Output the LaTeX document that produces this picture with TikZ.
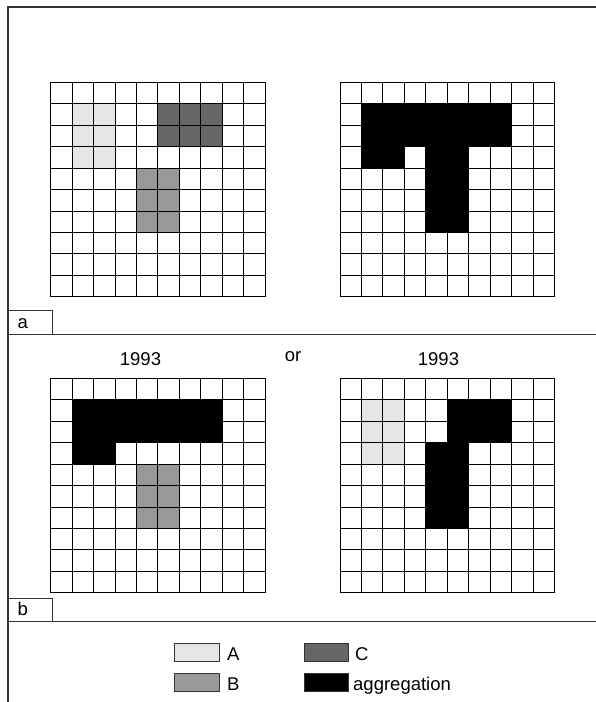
\documentclass[tikz,border=0pt]{standalone}
\usepackage{fontspec}
\setmainfont{Liberation Sans}
\definecolor{colA}{HTML}{E5E5E5}
\definecolor{colB}{HTML}{999999}
\definecolor{colC}{HTML}{666666}
\definecolor{frameCol}{HTML}{333333}
\tikzset{
  gridline/.style={draw=black, line width=1pt, line cap=rect},
  frameline/.style={draw=frameCol, line width=1.3pt},
  labelbox/.style={draw=frameCol, line width=1pt},
  legbox/.style={draw=frameCol, line width=0.8pt},
  txt/.style={inner sep=0pt, anchor=base, font=\fontsize{18.5}{20}\selectfont},
  txtw/.style={inner sep=0pt, anchor=base west, font=\fontsize{18.5}{20}\selectfont},
}
\def\cs{21.45}
% block fill: x0 y0 c1 r1 c2 r2 colour
\newcommand\blockfill[7]{\fill[#7] ({#1+#3*\cs},{#2+#4*\cs}) rectangle ({#1+(#5+1)*\cs},{#2+(#6+1)*\cs});}
\newcommand\gridlines[2]{%
  \foreach \i in {0,...,10}{%
    \draw[gridline] ({#1+\i*\cs},{#2}) -- ({#1+\i*\cs},{#2+10*\cs});
    \draw[gridline] ({#1},{#2+\i*\cs}) -- ({#1+10*\cs},{#2+\i*\cs});
  }}
\begin{document}
\begin{tikzpicture}[x=1pt,y=-1pt]
\useasboundingbox (0,0) rectangle (596,702);
\fill[white] (0,0) rectangle (596,702);
% frame and separators
\draw[frameline] (596,7) -- (8,7) -- (8,702);
\draw[frameline] (8,334.3) -- (596,334.3);
\draw[frameline] (8,621.7) -- (596,621.7);
% label boxes
\draw[labelbox] (8,310.7) rectangle (52.7,334.3);
\node[txtw] (la) at (17.5,328) {a};
\draw[labelbox] (8,598.3) rectangle (52.7,621.7);
\node[txtw] (lb) at (17.5,615.5) {b};
% grid 1
\def\gx{50.7}\def\gy{82.3}
\blockfill{\gx}{\gy}{1}{1}{2}{3}{colA}
\blockfill{\gx}{\gy}{5}{1}{7}{2}{colC}
\blockfill{\gx}{\gy}{4}{4}{5}{6}{colB}
\gridlines{\gx}{\gy}
% grid 2
\def\gx{340}\def\gy{82.3}
\blockfill{\gx}{\gy}{1}{1}{7}{2}{black}
\blockfill{\gx}{\gy}{1}{3}{2}{3}{black}
\blockfill{\gx}{\gy}{4}{3}{5}{6}{black}
\gridlines{\gx}{\gy}
% grid 3
\def\gx{50.7}\def\gy{378.3}
\blockfill{\gx}{\gy}{1}{1}{7}{2}{black}
\blockfill{\gx}{\gy}{1}{3}{2}{3}{black}
\blockfill{\gx}{\gy}{4}{4}{5}{6}{colB}
\gridlines{\gx}{\gy}
% grid 4
\def\gx{340}\def\gy{378.3}
\blockfill{\gx}{\gy}{1}{1}{2}{3}{colA}
\blockfill{\gx}{\gy}{5}{1}{7}{2}{black}
\blockfill{\gx}{\gy}{4}{3}{5}{6}{black}
\gridlines{\gx}{\gy}
% titles
\node[txt] (t1) at (140.5,365) {1993};
\node[txt] (tor) at (293,361.5) {or};
\node[txt] (t2) at (438.5,365) {1993};
% legend
\draw[legbox, fill=colA] (174.5,643.5) rectangle (219,661);
\node[txtw] (lgA) at (227,660) {A};
\draw[legbox, fill=colB] (174.5,673.5) rectangle (219,691.5);
\node[txtw] (lgB) at (227,690.5) {B};
\draw[legbox, fill=colC] (304,643.5) rectangle (348.5,661);
\node[txtw] (lgC) at (355,660) {C};
\draw[legbox, fill=black] (304,673.5) rectangle (348.5,691.5);
\node[txtw] (lgD) at (353,690.5) {aggregation};
\end{tikzpicture}
\end{document}
